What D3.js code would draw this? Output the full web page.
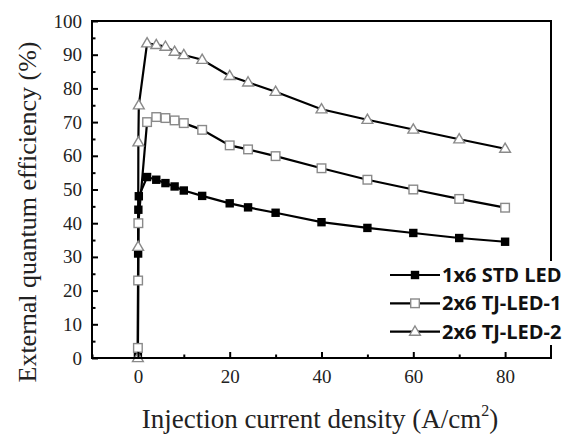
<!DOCTYPE html>
<html><head><meta charset="utf-8">
<script src="https://cdn.jsdelivr.net/npm/d3@7"></script>
<style>body{margin:0;background:#fff}svg{display:block}</style>
</head><body>
<script>
const xStd = [0, 0.05, 0.1, 0.2, 2, 4, 6, 8, 10, 14, 20, 24, 30, 40, 50, 60, 70, 80];
const stdLED = [0.5, 31, 44, 48, 53.7, 52.9, 51.9, 50.9, 49.7, 48.1, 45.9, 44.7, 43.1, 40.3, 38.6, 37.1, 35.6, 34.5];
const xTJ1 = [0, 0.05, 0.1, 2, 4, 6, 8, 10, 14, 20, 24, 30, 40, 50, 60, 70, 80];
const tjLED1 = [3, 23, 40, 70, 71.5, 71.2, 70.5, 69.7, 67.7, 63.1, 61.9, 59.9, 56.3, 52.9, 50.0, 47.2, 44.6];
const xTJ2 = [0, 0.05, 0.1, 0.2, 2, 4, 6, 8, 10, 14, 20, 24, 30, 40, 50, 60, 70, 80];
const tjLED2 = [0, 33, 64, 75, 93.4, 92.9, 92.4, 90.9, 89.9, 88.5, 83.7, 81.8, 79.0, 73.8, 70.7, 67.8, 64.9, 62.1];
const seriesNames = ["1x6 STD LED", "2x6 TJ-LED-1", "2x6 TJ-LED-2"];
const xTicks = [0, 20, 40, 60, 80];
const yTicks = [0, 10, 20, 30, 40, 50, 60, 70, 80, 90, 100];

const W = 568, H = 441;
const L = 92, R = 551, T = 21, B = 358;
const svg = d3.select("body").append("svg").attr("width", W).attr("height", H);
const x = d3.scaleLinear().domain([-10, 90]).range([L, R]);
const y = d3.scaleLinear().domain([0, 100]).range([B, T]);

const series = [
  {name: seriesNames[0], xs: xStd, ys: stdLED, shape: "fsq"},
  {name: seriesNames[1], xs: xTJ1, ys: tjLED1, shape: "osq"},
  {name: seriesNames[2], xs: xTJ2, ys: tjLED2, shape: "tri"}
];

function drawMarker(g, shape, cx, cy) {
  if (shape === "fsq") {
    g.append("rect").attr("x", cx - 4.2).attr("y", cy - 4.2).attr("width", 8.4).attr("height", 8.4).attr("fill", "#000");
  } else if (shape === "osq") {
    g.append("rect").attr("x", cx - 4.3).attr("y", cy - 4.3).attr("width", 8.6).attr("height", 8.6)
      .attr("fill", "#fff").attr("stroke", "#8a8a8a").attr("stroke-width", 1.4);
  } else {
    const p = d3.path();
    p.moveTo(cx, cy - 5.6); p.lineTo(cx + 5.4, cy + 3.6); p.lineTo(cx - 5.4, cy + 3.6); p.closePath();
    g.append("path").attr("d", p.toString()).attr("fill", "#fff").attr("stroke", "#8a8a8a").attr("stroke-width", 1.4);
  }
}

const line = d3.line().x(d => x(d[0])).y(d => y(d[1]));
const plot = svg.append("g");
series.forEach(s => {
  const pts = s.xs.map((v, i) => [v, s.ys[i]]);
  plot.append("path").attr("d", line(pts)).attr("fill", "none").attr("stroke", "#000").attr("stroke-width", 2.2);
});
series.forEach(s => {
  s.xs.forEach((v, i) => drawMarker(plot, s.shape, x(v), y(s.ys[i])));
});

// axes
const yAxis = d3.axisLeft(y).tickValues(yTicks).tickSize(-6).tickPadding(10).tickFormat(d3.format("d"));
svg.append("g").attr("transform", `translate(${L},0)`).call(yAxis);
const yMinor = d3.axisLeft(y).tickValues(d3.range(5, 100, 10)).tickSize(-3.5).tickFormat("");
svg.append("g").attr("transform", `translate(${L},0)`).call(yMinor);
const xAxis = d3.axisBottom(x).tickValues(xTicks).tickSize(-6).tickPadding(12).tickFormat(d3.format("d"));
svg.append("g").attr("transform", `translate(0,${B})`).call(xAxis);
const xMinor = d3.axisBottom(x).tickValues([-10, 10, 30, 50, 70]).tickSize(-3.5).tickFormat("");
svg.append("g").attr("transform", `translate(0,${B})`).call(xMinor);
svg.selectAll(".domain").remove();
svg.selectAll(".tick line").attr("stroke", "#000").attr("stroke-width", 2);
svg.selectAll(".tick text").attr("font-family", "Liberation Serif, serif").attr("font-size", 19).attr("fill", "#222");

// legend (white box covering right axis)
const lg = svg.append("g");
lg.append("rect").attr("x", 388).attr("y", 261).attr("width", 180).attr("height", 84).attr("fill", "#fff");

// frame
svg.append("rect").attr("x", L).attr("y", T).attr("width", R - L).attr("height", B - T)
  .attr("fill", "none").attr("stroke", "#000").attr("stroke-width", 2);
lg.raise();
svg.append("line").attr("x1", R).attr("x2", R).attr("y1", 345).attr("y2", B).attr("stroke", "#000").attr("stroke-width", 2);
svg.append("line").attr("x1", 388).attr("x2", R + 1).attr("y1", B).attr("y2", B).attr("stroke", "#000").attr("stroke-width", 2);

series.forEach((s, i) => {
  const cy = 275 + i * 28.3;
  lg.append("line").attr("x1", 390).attr("x2", 440).attr("y1", cy).attr("y2", cy).attr("stroke", "#000").attr("stroke-width", 2.2);
  drawMarker(lg, s.shape, 415, cy);
  lg.append("text").attr("x", 442).attr("y", cy + 7).text(s.name)
    .attr("font-family", "Open Sans, sans-serif").attr("font-weight", 700).attr("font-size", 20).attr("fill", "#111");
});

// axis titles
const xt = svg.append("text").attr("x", 320).attr("y", 428).attr("text-anchor", "middle")
  .attr("font-family", "Liberation Serif, serif").attr("font-size", 27).attr("fill", "#222");
xt.append("tspan").text("Injection current density (A/cm");
xt.append("tspan").text("2").attr("font-size", 16).attr("dy", -12);
xt.append("tspan").text(")").attr("dy", 12);

svg.append("text").attr("transform", `translate(36,212) rotate(-90)`).attr("text-anchor", "middle")
  .attr("font-family", "Liberation Serif, serif").attr("font-size", 26).attr("fill", "#222")
  .text("External quantum efficiency (%)");
</script>
</body></html>
